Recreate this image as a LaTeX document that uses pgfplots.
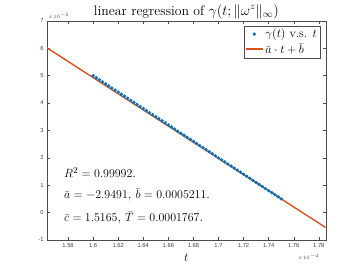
\documentclass[border=0pt]{standalone}
\usepackage{fontspec}
\setsansfont{Liberation Sans}
\usepackage{pgfplots}
\pgfplotsset{compat=1.18}
\definecolor{mblue}{RGB}{0,114,189}
\definecolor{morange}{RGB}{217,83,25}
\pgfplotstableread{
t y
1.6000 4.994
1.6025 4.919
1.6050 4.844
1.6075 4.769
1.6100 4.695
1.6125 4.620
1.6150 4.545
1.6175 4.470
1.6200 4.395
1.6225 4.320
1.6250 4.245
1.6275 4.171
1.6300 4.096
1.6325 4.021
1.6350 3.946
1.6375 3.871
1.6400 3.796
1.6425 3.721
1.6450 3.646
1.6475 3.571
1.6500 3.496
1.6525 3.422
1.6550 3.347
1.6575 3.272
1.6600 3.197
1.6625 3.122
1.6650 3.047
1.6675 2.972
1.6700 2.897
1.6725 2.823
1.6750 2.748
1.6775 2.673
1.6800 2.598
1.6825 2.523
1.6850 2.448
1.6875 2.373
1.6900 2.298
1.6925 2.223
1.6950 2.148
1.6975 2.074
1.7000 1.999
1.7025 1.924
1.7050 1.849
1.7075 1.774
1.7100 1.699
1.7125 1.624
1.7150 1.549
1.7175 1.474
1.7200 1.400
1.7225 1.325
1.7250 1.250
1.7275 1.175
1.7300 1.100
1.7325 1.025
1.7350 0.950
1.7375 0.875
1.7400 0.800
1.7425 0.726
1.7450 0.651
1.7475 0.576
1.7500 0.501
}\datatable
\begin{document}
\begin{tikzpicture}
\useasboundingbox (-47bp,-30bp) rectangle (313bp,240bp);
\begin{axis}[
  at={(0,0)}, anchor=south west,
  scale only axis, width=278.7bp, height=219.3bp,
  xmin=1.5632, xmax=1.7855, ymin=-1, ymax=7,
  xtick={1.58,1.60,1.62,1.64,1.66,1.68,1.70,1.72,1.74,1.76,1.78},
  xticklabels={1.58,1.6,1.62,1.64,1.66,1.68,1.7,1.72,1.74,1.76,1.78},
  ytick={-1,0,1,2,3,4,5,6,7},
  tick align=inside, major tick length=3bp,
  axis line style={black!70},
  every tick/.style={black!70, line width=0.4pt},
  tick label style={font=\sffamily\fontsize{5.8}{6}\selectfont, text=black!75},
  /pgf/number format/assume math mode=true,
  title={linear regression of $\gamma(t;\|\omega^z\|_\infty)$},
  every axis title/.style={at={(0.5,1)}, anchor=base, yshift=5.7bp, font=\fontsize{13.8}{16}\selectfont, inner sep=0pt},
  xlabel={$t$},
  every axis x label/.style={at={(0.5,0)}, anchor=base, yshift=-21.5bp, font=\fontsize{12.5}{13}\selectfont, inner sep=0pt},
  legend style={at={(0.9796,0.977)}, anchor=north east, draw=black!70, font=\fontsize{12.3}{13}\selectfont, inner sep=1pt, row sep=0pt, cells={anchor=west}},
  legend cell align=left,
]
\addplot[only marks, mark=*, mark size=1.5pt, mblue] table[x=t,y=y] {\datatable};
\addlegendentry{$\gamma(t)$ v.s. $t$}
\addplot[morange, line width=1.4pt] coordinates {(1.5632,6.0097) (1.7855,-0.5462)};
\addlegendentry{$\bar a\cdot t+\bar b$}
\node[anchor=base west, inner sep=0pt, font=\fontsize{13}{15}\selectfont] at (rel axis cs:0.061,0.284) {$R^2=0.99992$.};
\node[anchor=base west, inner sep=0pt, font=\fontsize{13}{15}\selectfont] at (rel axis cs:0.061,0.189) {$\bar a=-2.9491$, $\bar b=0.0005211$.};
\node[anchor=base west, inner sep=0pt, font=\fontsize{13}{15}\selectfont] at (rel axis cs:0.061,0.083) {$\bar c=1.5165$, $\bar T=0.0001767$.};
\end{axis}
\node[anchor=base west, inner sep=0pt, font=\fontsize{4.5}{5}\selectfont, text=black!75] at (0.7bp,221.8bp) {$\times10^{-5}$};
\node[anchor=base east, inner sep=0pt, font=\fontsize{4.5}{5}\selectfont, text=black!75] at (272.3bp,-19.8bp) {$\times10^{-4}$};
\end{tikzpicture}
\end{document}
